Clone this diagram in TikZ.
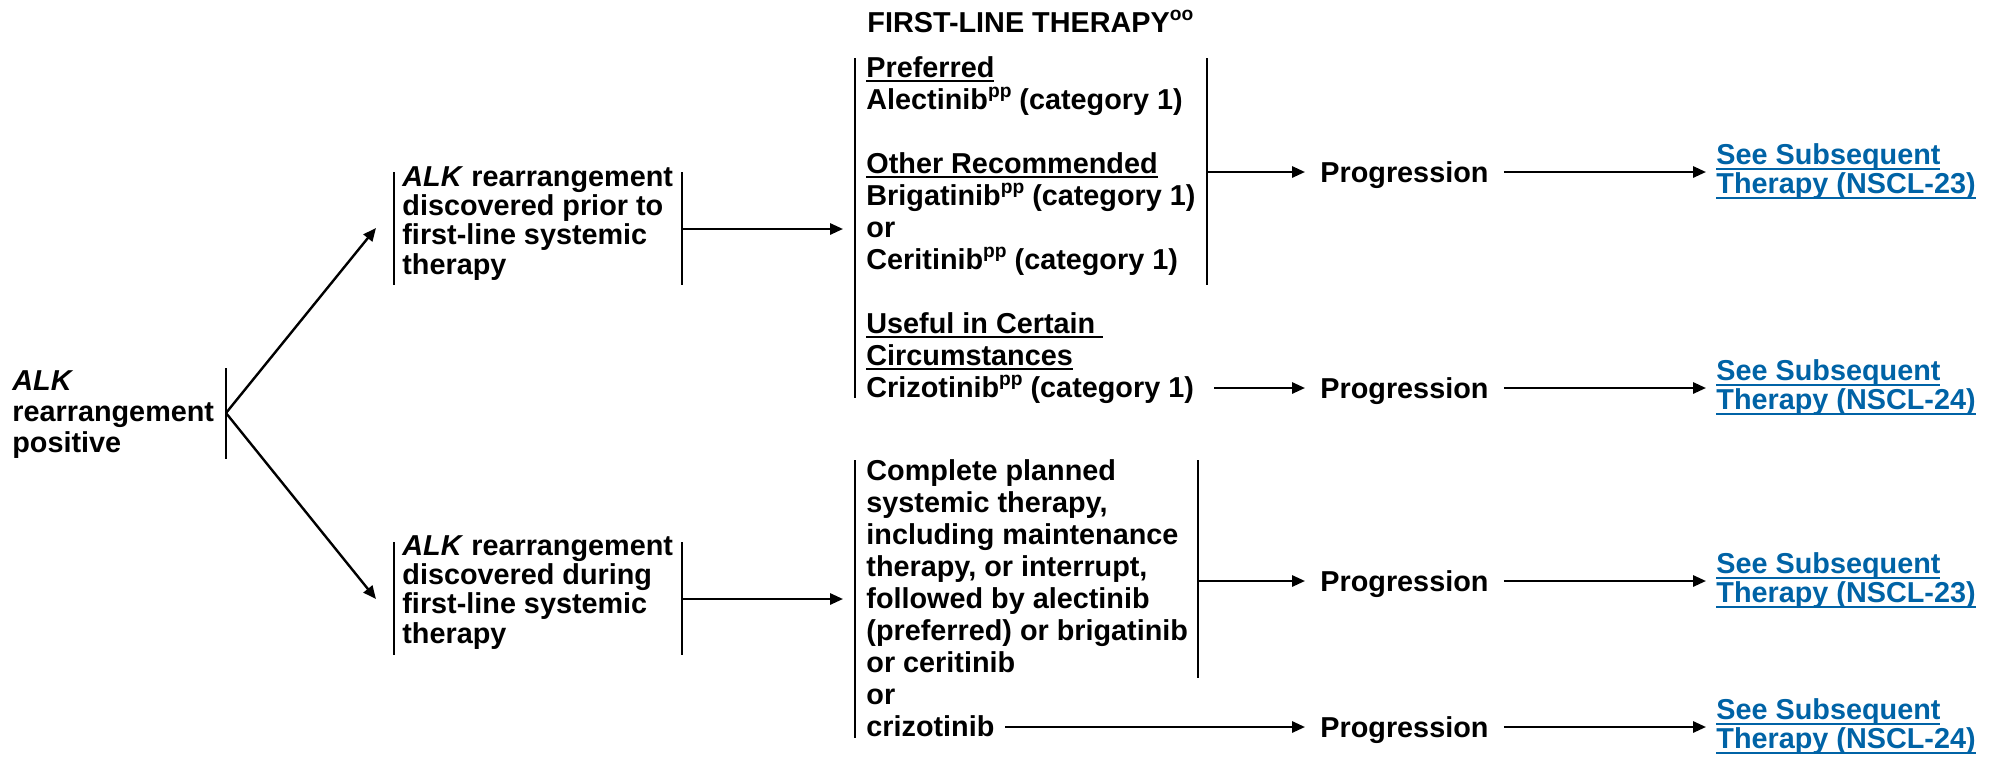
\documentclass[tikz,border=0pt]{standalone}
\usepackage{fontspec}
\setmainfont{Liberation Sans}
\usetikzlibrary{arrows.meta}
\definecolor{linkblue}{RGB}{0,99,166}
\newlength\ulw
\newcommand\uln[1]{\settowidth\ulw{#1}\rlap{\rule[-2.6pt]{\ulw}{1pt}}#1}
\newcommand\supx[1]{\raisebox{0.75ex}{\fontsize{9.6}{9.6}\selectfont #1}}
\begin{document}
\begin{tikzpicture}[x=0.5pt,y=-0.5pt,
  txt/.style={font=\fontsize{14.4}{#1}\selectfont\bfseries, align=left, inner sep=0pt, anchor=base west},
  prog/.style={font=\fontsize{14.4}{15}\selectfont\bfseries, inner xsep=7.5pt, inner ysep=0pt, text height=10.3pt, text depth=0pt, anchor=west},
  lnk/.style={font=\fontsize{14.4}{14.5}\selectfont\bfseries, text=linkblue, align=left, inner xsep=5pt, inner ysep=0pt, anchor=west},
  bar/.style={line width=1.3pt},
  arr/.style={line width=1.2pt, -{Triangle[length=6.5pt,width=5.6pt]}}
]
\useasboundingbox (0,0) rectangle (1997,756);

% title (anchors below are at the baseline of the LAST line of each block)
\node[txt=15pt] (title) at (867,32) {FIRST-LINE THERAPY\supx{oo}};

% left node
\node[txt=15.4pt] (a) at (12,452) {\textit{ALK}\\rearrangement\\positive};
\draw[bar] (226,368) -- (226,459);
\coordinate (aR) at (226,413);

% B and C
\node[txt=14.65pt] (b) at (402,274) {\textit{ALK} rearrangement\\discovered prior to\\first-line systemic\\therapy};
\draw[bar] (394,172) -- (394,285);
\draw[bar] (682,172) -- (682,285);
\coordinate (bL) at (376,228);
\coordinate (bR) at (682,229);

\node[txt=14.65pt] (c) at (402,643) {\textit{ALK} rearrangement\\discovered during\\first-line systemic\\therapy};
\draw[bar] (394,542) -- (394,655);
\draw[bar] (682,542) -- (682,655);
\coordinate (cL) at (376,599);
\coordinate (cR) at (682,599);

\draw[arr] (aR) -- (bL);
\draw[arr] (aR) -- (cL);

% D upper therapy block
\node[txt=16pt] (d) at (866,397) {\uln{Preferred}\\Alectinib\supx{pp} (category 1)\\[16pt]\uln{Other Recommended}\\Brigatinib\supx{pp} (category 1)\\or\\Ceritinib\supx{pp} (category 1)\\[16pt]\uln{Useful in Certain\ }\\\uln{Circumstances}\\Crizotinib\supx{pp} (category 1)};
\draw[bar] (855,58) -- (855,398);
\draw[bar] (1207,58) -- (1207,285);
\coordinate (dIn) at (843,229);
\coordinate (dR) at (1207,172);
\coordinate (cz1) at (1214,388);

% E lower therapy block
\node[txt=16pt] (e) at (866,736) {Complete planned\\systemic therapy,\\including maintenance\\therapy, or interrupt,\\followed by alectinib\\(preferred) or brigatinib\\or ceritinib\\or\\crizotinib};
\draw[bar] (855,460) -- (855,738);
\draw[bar] (1198,460) -- (1198,678);
\coordinate (eIn) at (843,599);
\coordinate (eR) at (1198,581);
\coordinate (cz2) at (1005,727);

\draw[arr] (bR) -- (dIn);
\draw[arr] (cR) -- (eIn);

% progression nodes
\node[prog] (p1) at (1305,172) {Progression};
\node[prog] (p2) at (1305,388) {Progression};
\node[prog] (p3) at (1305,581) {Progression};
\node[prog] (p4) at (1305,727) {Progression};

\node[lnk] (l1) at (1706,172) {\uln{See Subsequent}\\\uln{Therapy (NSCL-23)}};
\node[lnk] (l2) at (1706,388) {\uln{See Subsequent}\\\uln{Therapy (NSCL-24)}};
\node[lnk] (l3) at (1706,581) {\uln{See Subsequent}\\\uln{Therapy (NSCL-23)}};
\node[lnk] (l4) at (1706,727) {\uln{See Subsequent}\\\uln{Therapy (NSCL-24)}};

\draw[arr] (dR) -- (p1.west);
\draw[arr] (cz1) -- (p2.west);
\draw[arr] (eR) -- (p3.west);
\draw[arr] (cz2) -- (p4.west);

\draw[arr] (p1.east) -- (l1.west);
\draw[arr] (p2.east) -- (l2.west);
\draw[arr] (p3.east) -- (l3.west);
\draw[arr] (p4.east) -- (l4.west);
\end{tikzpicture}
\end{document}
